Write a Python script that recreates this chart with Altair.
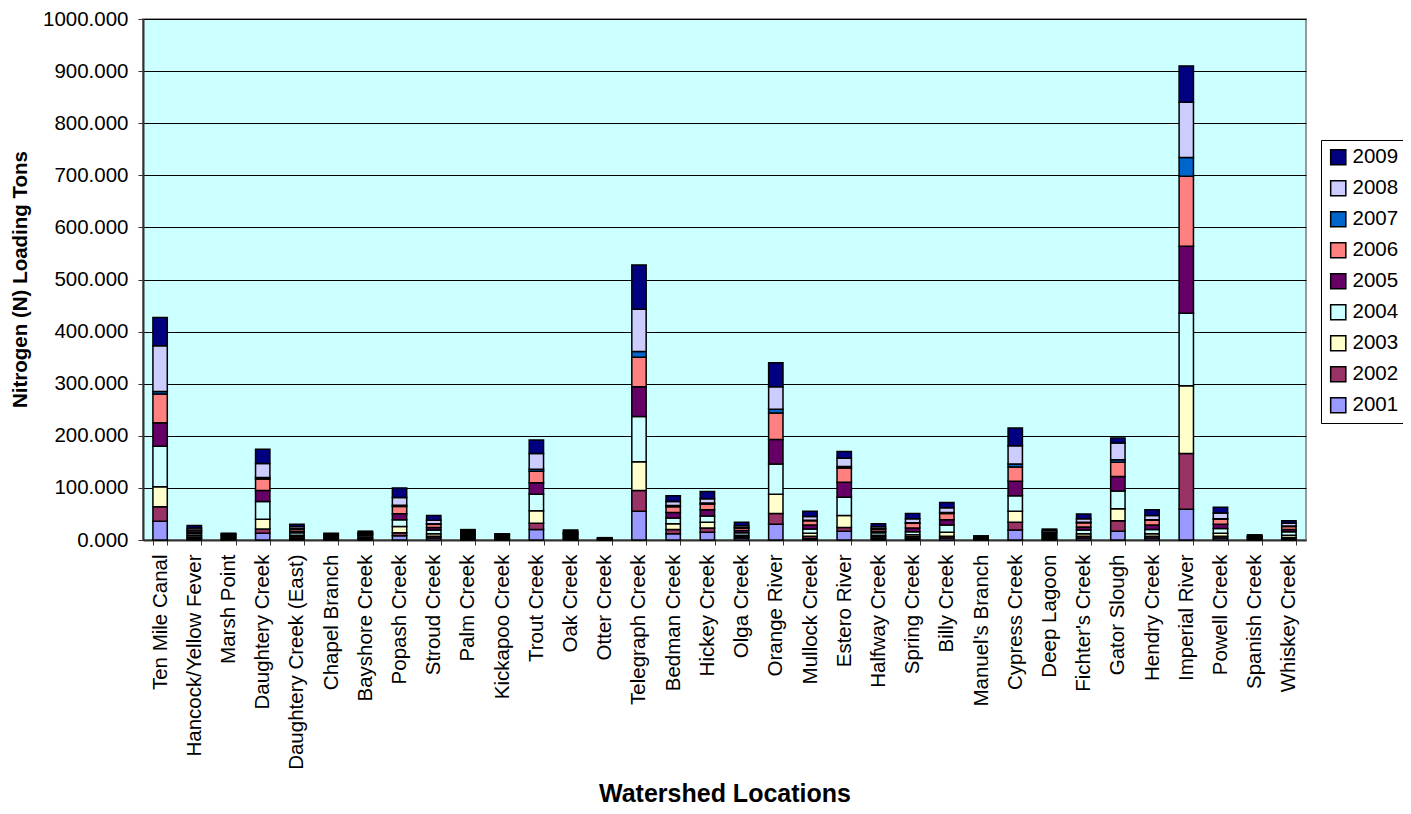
import altair as alt
import pandas as pd

locations = [
    "Ten Mile Canal", "Hancock/Yellow Fever", "Marsh Point", "Daughtery Creek",
    "Daughtery Creek (East)", "Chapel Branch", "Bayshore Creek", "Popash Creek",
    "Stroud Creek", "Palm Creek", "Kickapoo Creek", "Trout Creek", "Oak Creek",
    "Otter Creek", "Telegraph Creek", "Bedman Creek", "Hickey Creek", "Olga Creek",
    "Orange River", "Mullock Creek", "Estero River", "Halfway Creek", "Spring Creek",
    "Billy Creek", "Manuel's Branch", "Cypress Creek", "Deep Lagoon", "Fichter's Creek",
    "Gator Slough", "Hendry Creek", "Imperial River", "Powell Creek", "Spanish Creek",
    "Whiskey Creek",
]

years = ["2001", "2002", "2003", "2004", "2005", "2006", "2007", "2008", "2009"]

y2001 = [36, 3, 1, 13, 3, 1, 2, 8, 4, 2, 1, 20, 2, 0.5, 55, 12, 15, 4, 30, 3, 17, 3, 3, 4, 1, 19, 2, 4, 17, 4, 59, 4, 1, 3]
y2002 = [28, 2, 1, 8, 3, 1, 1, 6, 3, 2, 1, 12, 2, 0.5, 40, 8, 8, 2, 21, 4, 7, 3, 3, 3, 1, 15, 2, 3, 20, 3, 107, 3, 1, 2]
y2003 = [38, 3, 2, 19, 3, 2, 2, 12, 5, 2, 1, 24, 2, 0.5, 55, 11, 11, 3, 37, 6, 23, 3, 4, 8, 1, 21, 2, 5, 23, 5, 130, 6, 1, 4]
y2004 = [78, 4, 2, 34, 5, 2, 3, 13, 7, 3, 2, 32, 3, 0.5, 87, 11, 12, 5, 58, 8, 35, 5, 6, 14, 1, 30, 3, 7, 34, 8, 139, 9, 1, 7]
y2005 = [45, 3, 2, 21, 3, 2, 2, 11.5, 5, 2, 2, 22, 2, 0.5, 57, 11, 12, 4, 47, 8, 29, 3, 7, 10, 1, 28, 3, 6, 28, 9, 129, 8, 1, 4]
y2006 = [55, 3, 2, 22, 4, 2, 2, 14, 6, 3, 2, 22, 2, 0.5, 57, 11, 11, 5, 51, 8, 27, 4, 9, 12, 1, 27, 3, 8, 27, 9, 134, 10, 1.5, 6]
y2007 = [5, 1, 0.5, 3, 1, 0.5, 0.5, 2, 1, 0.5, 0.5, 4, 0.5, 0.2, 11, 2, 2, 0.5, 7, 1, 3, 0.5, 1, 2, 0.3, 6, 0.5, 1, 5, 1, 36, 1, 0.3, 1]
y2008 = [88, 4, 1.5, 27, 4, 1.5, 2, 15, 7, 3, 1.5, 30, 3, 0.5, 81, 8, 8, 4, 43, 7, 16, 4, 8, 9, 1, 35, 3, 7, 32, 8, 106, 11, 1.5, 5]
y2009 = [54, 5, 1, 27, 4, 1, 2.5, 18.5, 9, 2.5, 1, 26, 2.5, 0.8, 85, 11, 14, 6.5, 46, 10, 13, 5.5, 10, 10, 0.7, 34, 2.5, 9, 10, 11, 70, 11, 1.7, 5]

series = [y2001, y2002, y2003, y2004, y2005, y2006, y2007, y2008, y2009]

year_colors = ["#9999FF", "#993366", "#FFFFCC", "#CCFFFF", "#660066",
               "#FF8080", "#0066CC", "#CCCCFF", "#000080"]

rows = []
for yr, vals in zip(years, series):
    for loc, v in zip(locations, vals):
        rows.append({"Location": loc, "Year": yr, "YearNum": int(yr), "Tons": v})
df = pd.DataFrame(rows)

legend_domain = years[::-1]
legend_range = year_colors[::-1]

FONT = "Liberation Sans"

chart = alt.Chart(df).mark_bar(stroke="black", strokeWidth=1.5).encode(
    x=alt.X(
        "Location:N",
        sort=locations,
        scale=alt.Scale(paddingInner=0.58, paddingOuter=0.29),
        axis=alt.Axis(
            title="Watershed Locations",
            labelAngle=-90,
            labelFont=FONT,
            labelFontSize=20.5,
            labelColor="black",
            labelPadding=9,
            labelLimit=400,
            tickBand="extent",
            tickSize=5,
            tickColor="#333333",
            domainColor="#333333",
            domainWidth=2,
            titleFont=FONT,
            titleFontSize=25,
            titleFontWeight="bold",
            titleColor="black",
            titleX=581.5,
            titleY=261,
            titleBaseline="alphabetic",
            titleAlign="center",
        ),
    ),
    y=alt.Y(
        "Tons:Q",
        stack="zero",
        scale=alt.Scale(domain=[0, 1000], nice=False),
        axis=alt.Axis(
            title="Nitrogen (N) Loading Tons",
            values=list(range(0, 1001, 100)),
            format=".3f",
            labelFont=FONT,
            labelFontSize=20.5,
            labelColor="black",
            labelPadding=10,
            tickSize=5,
            tickColor="#333333",
            domainColor="#333333",
            domainWidth=2,
            grid=True,
            gridColor="black",
            gridWidth=1,
            titleFont=FONT,
            titleFontSize=20.5,
            titleFontWeight="bold",
            titleColor="black",
            titleAngle=-90,
            titleX=-123,
            titleY=260,
            titleAlign="center",
            titleBaseline="middle",
        ),
    ),
    color=alt.Color(
        "Year:N",
        scale=alt.Scale(domain=legend_domain, range=legend_range),
        legend=alt.Legend(
            title=None,
            orient="none",
            legendX=1178,
            legendY=121,
            symbolType="square",
            symbolSize=230,
            symbolStrokeColor="black",
            symbolStrokeWidth=1.5,
            labelFont=FONT,
            labelFontSize=20.5,
            labelColor="black",
            labelOffset=4,
            rowPadding=9,
            padding=7,
            strokeColor="black",
            fillColor="white",
        ),
    ),
    order=alt.Order("YearNum:Q", sort="ascending"),
).properties(
    width=1163,
    height=521,
    autosize=alt.AutoSizeParams(type="none"),
    padding={"left": 135, "top": 11, "right": 97, "bottom": 266},
).configure_view(
    fill="#CCFFFF",
    stroke="#999999",
    strokeWidth=2,
)

chart.save("out.html", embed_options={"renderer": "svg", "actions": False})
